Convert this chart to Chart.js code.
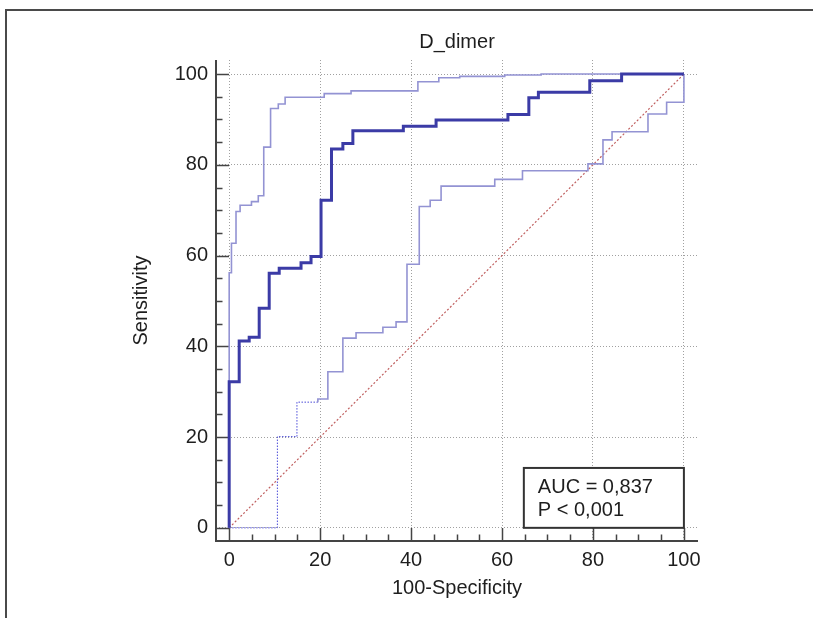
<!DOCTYPE html>
<html><head><meta charset="utf-8">
<script src="https://cdn.jsdelivr.net/npm/chart.js@4/dist/chart.umd.min.js"></script>
<style>html,body{margin:0;padding:0;background:#fff;overflow:hidden}canvas{display:block}</style>
</head><body>
<canvas id="c" width="813" height="618"></canvas>
<script>
// ---- Data ----
const chartTitle = 'D_dimer';
const xAxisTitle = '100-Specificity';
const yAxisTitle = 'Sensitivity';
const tickValues = [0, 20, 40, 60, 80, 100];
const aucLines = ['AUC = 0,837', 'P < 0,001'];

// ROC curve (stepped: vertical first, then horizontal)
const rocFpr = [0, 2.2, 4.4, 6.6, 8.8, 11.0, 15.8, 18.0, 20.2, 22.5, 25.0, 27.2, 38.3, 45.5, 61.3, 65.9, 68.0, 79.3, 86.3, 100];
const rocTpr = [0, 32.2, 41.2, 42.0, 48.4, 56.1, 57.2, 58.4, 59.8, 72.2, 83.5, 84.7, 87.5, 88.5, 89.9, 91.1, 94.8, 96.0, 98.5, 100];

// Upper 95% confidence bound
const upperFpr = [0, 0.5, 1.5, 2.4, 4.9, 6.4, 7.6, 9.1, 10.8, 12.3, 20.9, 26.8, 41.5, 46.1, 50.7, 60.6, 68.6, 100];
const upperTpr = [0, 56.2, 62.7, 69.7, 71.1, 71.9, 73.2, 83.9, 92.4, 93.4, 94.9, 95.7, 96.3, 98.3, 99.2, 99.5, 99.8, 100];

// Lower 95% confidence bound (dotted start segment, then solid)
const lowerDotFpr = [0, 10.6, 14.9, 19.5];
const lowerDotTpr = [0, 0, 20.1, 27.7];
const lowerFpr = [19.5, 21.7, 25.0, 27.9, 33.8, 36.7, 39.1, 41.8, 44.2, 46.6, 58.4, 64.5, 78.9, 82.2, 84.2, 92.1, 96.2, 100, 100];
const lowerTpr = [27.7, 28.4, 34.4, 41.8, 43.0, 44.2, 45.4, 58.1, 70.8, 72.2, 75.3, 76.8, 78.7, 80.2, 85.5, 87.3, 91.2, 93.8, 100];

// Reference diagonal
const diagX = [0, 100];
const diagY = [0, 100];

const pts = (xs, ys) => xs.map((x, i) => ({x: x, y: ys[i]}));

const FONT = 'Liberation Sans, Arial, sans-serif';
const TXT = '#1e1e1e';

const decor = {
  id: 'decor',
  beforeDatasetsDraw(chart) {
    const {ctx, chartArea: a, scales: {x, y}} = chart;
    ctx.save();
    ctx.strokeStyle = '#444';
    ctx.lineWidth = 2;
    ctx.beginPath();
    ctx.moveTo(a.left, a.top); ctx.lineTo(a.left, a.bottom + 1);
    ctx.moveTo(a.left - 1, a.bottom); ctx.lineTo(a.right, a.bottom);
    ctx.stroke();
    ctx.lineWidth = 1.5;
    ctx.beginPath();
    for (let v = 0; v <= 100; v += 5) {
      const len = v % 20 === 0 ? 13 : 6.5;
      const px = Math.round(x.getPixelForValue(v)) + 0.5;
      ctx.moveTo(px, a.bottom); ctx.lineTo(px, a.bottom - len);
      const py = Math.round(y.getPixelForValue(v)) + 0.5;
      ctx.moveTo(a.left, py); ctx.lineTo(a.left + len, py);
    }
    ctx.stroke();
    ctx.restore();
  },
  afterDraw(chart) {
    const {ctx, chartArea: a, scales: {x, y}} = chart;
    ctx.save();
    ctx.strokeStyle = '#4a4a4a';
    ctx.lineWidth = 2;
    ctx.beginPath();
    ctx.moveTo(6, chart.height); ctx.lineTo(6, 10); ctx.lineTo(chart.width, 10);
    ctx.stroke();
    ctx.fillStyle = TXT;
    ctx.font = '20px ' + FONT;
    ctx.textAlign = 'center';
    ctx.textBaseline = 'middle';
    ctx.fillText(chartTitle, (a.left + a.right) / 2, 42);
    const bx1 = x.getPixelForValue(64.8), bx2 = x.getPixelForValue(100);
    const by1 = y.getPixelForValue(13.2), by2 = y.getPixelForValue(0);
    ctx.fillStyle = '#fff';
    ctx.fillRect(bx1, by1, bx2 - bx1, by2 - by1);
    ctx.strokeStyle = '#333';
    ctx.lineWidth = 2;
    ctx.strokeRect(bx1, by1, bx2 - bx1, by2 - by1);
    ctx.fillStyle = TXT;
    ctx.textAlign = 'left';
    ctx.textBaseline = 'alphabetic';
    ctx.fillText(aucLines[0], bx1 + 14, by1 + 25);
    ctx.fillText(aucLines[1], bx1 + 14, by1 + 48.5);
    ctx.restore();
  }
};

const setTicks = s => { s.ticks = tickValues.map(v => ({value: v})); };

new Chart(document.getElementById('c'), {
  type: 'scatter',
  data: {
    datasets: [
      {data: pts(rocFpr, rocTpr), showLine: true, stepped: 'after', borderColor: '#3b3ba6', borderWidth: 3, pointRadius: 0, borderJoinStyle: 'miter'},
      {data: pts(upperFpr, upperTpr), showLine: true, stepped: 'after', borderColor: '#9393d3', borderWidth: 1.6, pointRadius: 0, borderJoinStyle: 'miter'},
      {data: pts(lowerFpr, lowerTpr), showLine: true, stepped: 'after', borderColor: '#9393d3', borderWidth: 1.6, pointRadius: 0, borderJoinStyle: 'miter'},
      {data: pts(lowerDotFpr, lowerDotTpr), showLine: true, stepped: 'after', borderColor: '#4a4ad8', borderWidth: 1, borderDash: [1.5, 1.5], pointRadius: 0},
      {data: pts(diagX, diagY), showLine: true, borderColor: '#c06060', borderWidth: 1.2, borderDash: [2, 2], pointRadius: 0}
    ]
  },
  options: {
    responsive: false,
    animation: false,
    devicePixelRatio: 1,
    layout: {padding: {left: 0, top: 60, right: 115, bottom: 0}},
    plugins: {legend: {display: false}, tooltip: {enabled: false}, title: {display: false}},
    scales: {
      x: {
        type: 'linear', position: 'bottom', min: -2.9, max: 103.1,
        afterBuildTicks: setTicks,
        afterFit: s => { s.height = 77; },
        grid: {color: '#a0a0a0', lineWidth: 1, drawTicks: false},
        border: {display: false, dash: [1, 2]},
        ticks: {font: {family: FONT, size: 20}, color: TXT, padding: 7, maxRotation: 0, autoSkip: false},
        title: {display: true, text: xAxisTitle, font: {family: FONT, size: 20}, color: TXT, padding: {top: 0, bottom: 17.5}}
      },
      y: {
        type: 'linear', position: 'left', min: -2.9, max: 103.1,
        afterBuildTicks: setTicks,
        afterFit: s => { s.width = 216; },
        grid: {color: '#a0a0a0', lineWidth: 1, drawTicks: false},
        border: {display: false, dash: [1, 2]},
        ticks: {font: {family: FONT, size: 20}, color: TXT, padding: 8, autoSkip: false},
        title: {display: true, text: yAxisTitle, font: {family: FONT, size: 20}, color: TXT, padding: {top: 129, bottom: 0}}
      }
    }
  },
  plugins: [decor]
});
</script>
</body></html>
